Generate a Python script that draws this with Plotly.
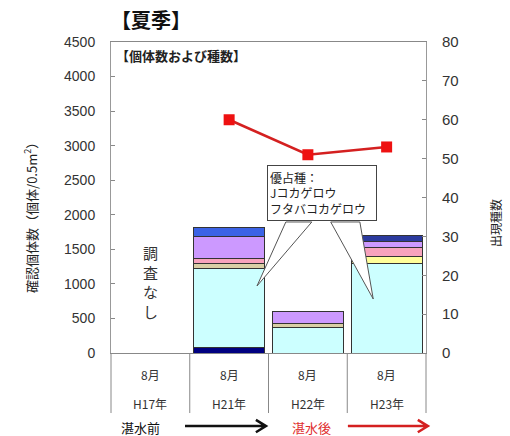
import plotly.graph_objects as go

# ---- data ----
categories = ["H17", "H21", "H22", "H23"]
month_labels = ["8月", "8月", "8月", "8月"]
year_labels = ["H17年", "H21年", "H22年", "H23年"]

seg_navy = [0, 80, 0, 0]
seg_cyan = [0, 1140, 370, 1300]
seg_tan = [0, 80, 60, 0]
seg_yellow = [0, 0, 0, 100]
seg_pink = [0, 70, 0, 120]
seg_purple = [0, 320, 165, 100]
seg_blue = [0, 130, 0, 0]
seg_darkblue = [0, 0, 0, 87]

species_cats = ["H21", "H22", "H23"]
species_counts = [60, 51, 53]

JP = "Noto Sans CJK JP"
NUM = "Liberation Sans"

fig = go.Figure()
x_idx = list(range(len(categories)))

segments = [
    (seg_navy, "#000080"),
    (seg_cyan, "#ccffff"),
    (seg_tan, "#d9cfa6"),
    (seg_yellow, "#ffff99"),
    (seg_pink, "#f7a3bd"),
    (seg_purple, "#cc99ff"),
    (seg_blue, "#3b63e6"),
    (seg_darkblue, "#2b3a9e"),
]
for vals, col in segments:
    fig.add_trace(go.Bar(
        x=x_idx, y=vals, marker=dict(color=col, line=dict(color="#333333", width=1)),
        width=0.9, showlegend=False, hoverinfo="skip"))

sp_x = [categories.index(c) for c in species_cats]
fig.add_trace(go.Scatter(
    x=sp_x, y=species_counts, yaxis="y2", mode="lines+markers",
    line=dict(color="#d42020", width=2.5),
    marker=dict(symbol="square", size=11, color="#ee1111"),
    showlegend=False, hoverinfo="skip"))

annotations = []
# title
annotations.append(dict(text="<b>【夏季】</b>", xref="paper", yref="paper", x=-0.005, y=1.071,
                        xanchor="left", yanchor="middle", showarrow=False,
                        font=dict(family=JP, size=20, color="#111")))
annotations.append(dict(text="<b>【個体数および種数】</b>", xref="paper", yref="paper", x=0.01, y=0.955,
                        xanchor="left", yanchor="middle", showarrow=False,
                        font=dict(family=JP, size=13, color="#222")))
# axis titles
annotations.append(dict(text="確認個体数（個体/0.5m<sup>2</sup>）", xref="paper", yref="paper",
                        x=-0.257, y=0.444, textangle=-90, showarrow=False,
                        xanchor="center", yanchor="middle",
                        font=dict(family=JP, size=13, color="#222")))
annotations.append(dict(text="出現種数", xref="paper", yref="paper",
                        x=1.219, y=0.418, textangle=-90, showarrow=False,
                        xanchor="center", yanchor="middle",
                        font=dict(family=JP, size=12, color="#222")))
# no survey
annotations.append(dict(text="調<br>査<br>な<br>し", xref="x", yref="paper", x=0, y=0.228,
                        showarrow=False, font=dict(family=JP, size=15, color="#333"),
                        xanchor="center", yanchor="middle"))
# callout box
annotations.append(dict(text="優占種：<br>Jコカゲロウ<br>フタバコカゲロウ", xref="x", yref="y",
                        x=1.48, y=2720, xanchor="left", yanchor="top", showarrow=False,
                        align="left", width=104, height=50, borderpad=2,
                        bordercolor="#444", borderwidth=1, bgcolor="white",
                        font=dict(family=JP, size=12, color="#222")))
# category labels
for i in x_idx:
    annotations.append(dict(text=month_labels[i], xref="x", yref="paper", x=i, y=-0.0707,
                            xanchor="center", yanchor="middle",
                            showarrow=False, font=dict(family=JP, size=12, color="#333")))
    annotations.append(dict(text=year_labels[i], xref="x", yref="paper", x=i, y=-0.161,
                            xanchor="center", yanchor="middle",
                            showarrow=False, font=dict(family=JP, size=12, color="#333")))
annotations.append(dict(text="湛水前", xref="paper", yref="paper", x=0.095, y=-0.24,
                        xanchor="center", yanchor="middle",
                        showarrow=False, font=dict(family=JP, size=13, color="#111")))
annotations.append(dict(text="湛水後", xref="paper", yref="paper", x=0.638, y=-0.24,
                        xanchor="center", yanchor="middle",
                        showarrow=False, font=dict(family=JP, size=13, color="#e03030")))

shapes = []
# category divider lines below axis
for k in range(len(categories) + 1):
    px = k / len(categories)
    shapes.append(dict(type="line", xref="paper", yref="paper", x0=px, x1=px, y0=0, y1=-0.193,
                       line=dict(color="#888", width=1)))
# callout wedges
shapes.append(dict(type="path", xref="x", yref="y", layer="above",
                   path="M 1.72,1896 L 1.354,970 L 2.05,1896 Z",
                   fillcolor="white", line=dict(color="#555", width=1)))
shapes.append(dict(type="path", xref="x", yref="y", layer="above",
                   path="M 2.29,1896 L 2.83,781 L 2.66,1896 Z",
                   fillcolor="white", line=dict(color="#555", width=1)))
# arrows
def arrow(x0, x1, y, col):
    dx, dy = 0.032, 0.02
    return dict(type="path", xref="paper", yref="paper",
                path=f"M {x0},{y} L {x1},{y} M {x1-dx},{y+dy} L {x1},{y} L {x1-dx},{y-dy}",
                line=dict(color=col, width=2.5))
shapes.append(arrow(0.235, 0.492, -0.235, "#111"))
shapes.append(arrow(0.752, 1.006, -0.235, "#d42020"))

fig.update_layout(
    width=510, height=436,
    margin=dict(l=111, r=84, t=42, b=83),
    paper_bgcolor="white", plot_bgcolor="white",
    barmode="stack", bargap=0.1,
    xaxis=dict(range=[-0.5, 3.5], showticklabels=False, showgrid=False, zeroline=False,
               showline=True, linecolor="#888", linewidth=1, mirror=True, fixedrange=True),
    yaxis=dict(range=[0, 4500], dtick=500, showgrid=False, zeroline=False,
               showline=True, linecolor="#999", linewidth=1, mirror=False,
               ticks="inside", ticklen=4, tickcolor="#888",
               tickfont=dict(family=NUM, size=14, color="#333"), ticklabelstandoff=12),
    yaxis2=dict(range=[0, 80], dtick=10, overlaying="y", side="right", showgrid=False,
                zeroline=False, showline=True, linecolor="#999", linewidth=1,
                ticks="inside", ticklen=4, tickcolor="#888",
                tickfont=dict(family=NUM, size=15, color="#333"), ticklabelstandoff=12),
    annotations=annotations,
    shapes=shapes,
)

fig.write_html("out.html")
